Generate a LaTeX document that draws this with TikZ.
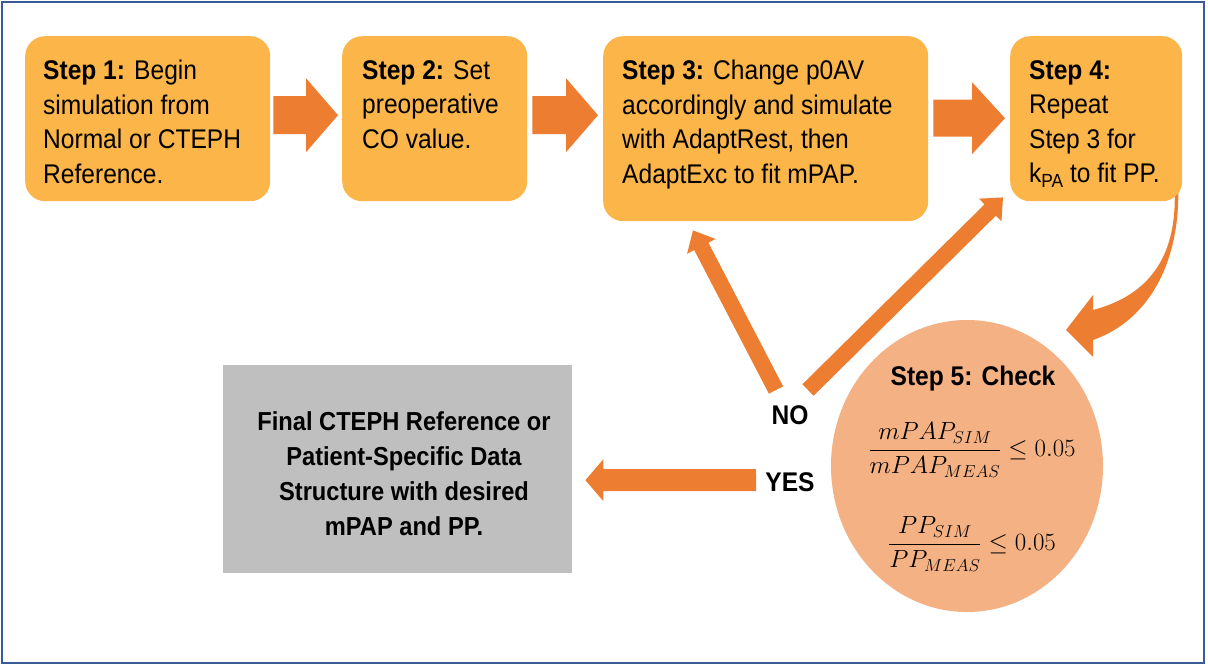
\documentclass[tikz,border=0pt]{standalone}
\usepackage{amsmath}
\usepackage{fontspec}
\setmainfont{Liberation Sans}[FakeStretch=0.91]
\usetikzlibrary{calc,shapes.geometric}
\definecolor{stepfill}{HTML}{FBB548}
\definecolor{arrowfill}{HTML}{ED7D31}
\definecolor{checkfill}{HTML}{F4B183}
\definecolor{finalfill}{HTML}{BFBFBF}
\definecolor{framecol}{HTML}{3B5A98}
% block arrow: #1 tail, #2 tip, #3 shaft half width, #4 head half width, #5 head length
\newcommand\blkarrow[5]{%
  \coordinate (ahbase) at ($(#2)!#5!(#1)$);
  \fill[arrowfill] ($(#1)!#3!90:(#2)$) -- ($(ahbase)!#3!-90:(#1)$) -- ($(ahbase)!#4!-90:(#1)$) -- (#2) -- ($(ahbase)!#4!90:(#1)$) -- ($(ahbase)!#3!90:(#1)$) -- ($(#1)!#3!-90:(#2)$) -- cycle;}
\begin{document}
\begin{tikzpicture}[x=1pt,y=-1pt,
  stepbox/.style={fill=stepfill, rounded corners=20pt, inner sep=0pt, anchor=north west},
  steptext/.style={font=\fontsize{27}{34.5}\selectfont, align=left, inner sep=0pt, anchor=north west},
  boldtext/.style={font=\fontsize{27}{35}\selectfont\bfseries, align=center, inner sep=0pt},
  mathtext/.style={font=\fontsize{25}{30}\selectfont, inner sep=0pt}]
\fill[white] (0,0) rectangle (1208,665);
\useasboundingbox (0,0) rectangle (1208,665);
\draw[framecol, line width=2pt] (1.5,1.5) rectangle (1204,663);

% curved arrow (behind step 4)
\fill[arrowfill] (1174,180) -- (1178,180) .. controls (1182,260) and (1150,320) .. (1093,340)
  -- (1093,357) -- (1066,330) -- (1093,295) -- (1093,310)
  .. controls (1150,295) and (1180,255) .. (1174,180) -- cycle;

% step boxes
\node[stepbox, minimum width=245pt, minimum height=165pt] (s1) at (25,36) {};
\node[stepbox, minimum width=185pt, minimum height=165pt] (s2) at (342,36) {};
\node[stepbox, minimum width=325pt, minimum height=185pt] (s3) at (603,36) {};
\node[stepbox, minimum width=172pt, minimum height=165pt] (s4) at (1010,36) {};

\node[steptext] (t1) at ($(s1.north west)+(18,24)$) {\textbf{Step 1:} Begin\\simulation from\\Normal or CTEPH\\Reference.};
\node[steptext] (t2) at ($(s2.north west)+(20,24)$) {\textbf{Step 2:} Set\\preoperative\\CO value.};
\node[steptext] (t3) at ($(s3.north west)+(19,24)$) {\textbf{Step 3:} Change p0AV\\accordingly and simulate\\with AdaptRest, then\\AdaptExc to fit mPAP.};
\node[steptext] (t4) at ($(s4.north west)+(19,24)$) {\textbf{Step 4:}\\Repeat\\Step 3 for\\k\raisebox{-5pt}{\fontsize{19}{19}\selectfont PA} to fit PP.};

% step arrows
\coordinate (a1t) at ($(s1.east)+(3,-3.5)$);
\coordinate (a1h) at ($(s2.west)+(-4,-3.5)$);
\coordinate (a2t) at ($(s2.east)+(5,-3.5)$);
\coordinate (a2h) at ($(s3.west)+(-5,-13.5)$);
\coordinate (a3t) at ($(s3.east)+(5,-10.5)$);
\coordinate (a3h) at ($(s4.west)+(-5,-0.5)$);
\blkarrow{a1t}{a1h}{19pt}{37pt}{32pt}
\blkarrow{a2t}{a2h}{19pt}{37pt}{32pt}
\blkarrow{a3t}{a3h}{18.5pt}{36pt}{33pt}

% check ellipse
\node[ellipse, fill=checkfill, minimum width=272pt, minimum height=292pt, inner sep=0pt] (chk) at (967,466) {};
\node[boldtext, anchor=base] (chkt) at (973,385) {Step 5: Check};
\node[mathtext] (f1) at (972,450) {$\dfrac{mPAP_{SIM}}{mPAP_{MEAS}} \le 0.05$};
\node[mathtext] (f2) at (972,544) {$\dfrac{PP_{SIM}}{PP_{MEAS}} \le 0.05$};

% labels
\node[boldtext] (no) at (790,415) {NO};
\node[boldtext] (yes) at (790,482) {YES};

% final box
\node[fill=finalfill, minimum width=349pt, minimum height=208pt, inner sep=0pt, anchor=north west] (fin) at (223,365) {};
\node[boldtext, font=\fontsize{26}{35}\selectfont\bfseries] (fint) at (404,474) {Final CTEPH Reference or\\Patient-Specific Data\\Structure with desired\\mPAP and PP.};

% NO / YES arrows
\coordinate (n1t) at ($(no.center)+(-14,-25)$);
\coordinate (n1h) at ($(s3.south west)+(90,9)$);
\coordinate (n2t) at ($(no.center)+(18,-25)$);
\coordinate (n2h) at ($(s4.south west)+(-7,-4)$);
\blkarrow{n1t}{n1h}{8pt}{16pt}{18pt}
\blkarrow{n2t}{n2h}{8pt}{16pt}{18pt}
\coordinate (yt) at ($(yes.center)+(-34,-2)$);
\coordinate (yh) at ($(fin.east)+(13,11)$);
\blkarrow{yt}{yh}{11pt}{21pt}{18pt}
\end{tikzpicture}
\end{document}
